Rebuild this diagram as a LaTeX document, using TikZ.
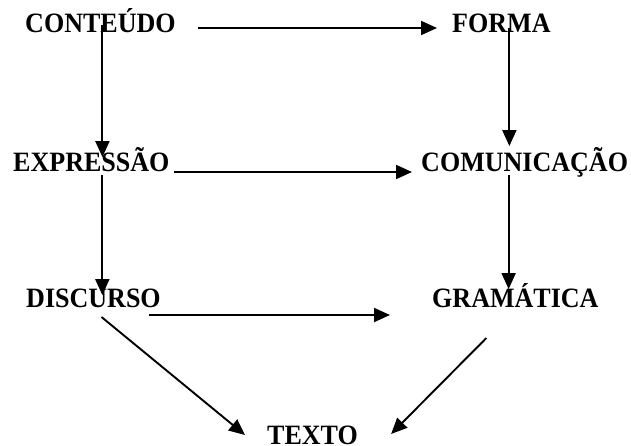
\documentclass[tikz,border=0pt]{standalone}
\usepackage{fontspec}
\setmainfont{Liberation Serif}[FakeStretch=0.93]
\usetikzlibrary{arrows.meta}

\tikzset{
  palavra/.style={font=\fontsize{28}{28}\selectfont\bfseries, inner sep=0pt,
    text height=18.5pt, text depth=0pt, anchor=south west},
  seta/.style={-{Triangle[length=16pt,width=14pt]}, line width=1.9pt}
}

\begin{document}
\begin{tikzpicture}[x=1pt,y=-1pt]
  \useasboundingbox (0,0) rectangle (631,446);
  % linha de cima
  \node[palavra] (conteudo) at (25,33) {CONTEÚDO};
  \node[palavra] (forma) at (452,33) {FORMA};
  % linha do meio
  \node[palavra] (expressao) at (13,172) {EXPRESSÃO};
  \node[palavra] (comunicacao) at (421,172) {COMUNICAÇÃO};
  % linha de baixo
  \node[palavra] (discurso) at (26,308) {DISCURSO};
  \node[palavra] (gramatica) at (432,308) {GRAMÁTICA};
  \node[palavra] (texto) at (267,445) {TEXTO};

  % pontos de partida das setas
  \coordinate (c1) at ([xshift=2pt,yshift=8pt]conteudo.south);
  \coordinate (f1) at ([xshift=8pt,yshift=5pt]forma.south);
  \coordinate (e1) at ([xshift=11pt,yshift=-3pt]expressao.south);
  \coordinate (m1) at ([xshift=-16pt,yshift=-3pt]comunicacao.south);
  \coordinate (d1) at ([xshift=-12pt,yshift=-7pt]discurso.south east);

  \draw[seta] ([xshift=22pt,yshift=5pt]conteudo.south east) -- ([xshift=-15pt,yshift=5pt]forma.south west);
  \draw[seta, shorten >=-4pt] (c1) -- (c1 |- expressao.north);
  \draw[seta, shorten >=7pt] (f1) -- (f1 |- comunicacao.north);
  \draw[seta, shorten >=9pt] ([xshift=4pt]expressao.south east) -- (comunicacao.south west);
  \draw[seta, shorten >=-6pt] (e1) -- (e1 |- discurso.north);
  \draw[seta] (m1) -- (m1 |- gramatica.north);
  \draw[seta, shorten >=42pt] (d1) -- (d1 -| gramatica.west);
  % as duas setas para o texto
  \draw[seta] ([xshift=8pt,yshift=-9pt]discurso.south) -- ([xshift=-22pt,yshift=10pt]texto.south west);
  \draw[seta] ([xshift=-29pt,yshift=-30pt]gramatica.south) -- ([xshift=33pt,yshift=11pt]texto.south east);
\end{tikzpicture}
\end{document}
